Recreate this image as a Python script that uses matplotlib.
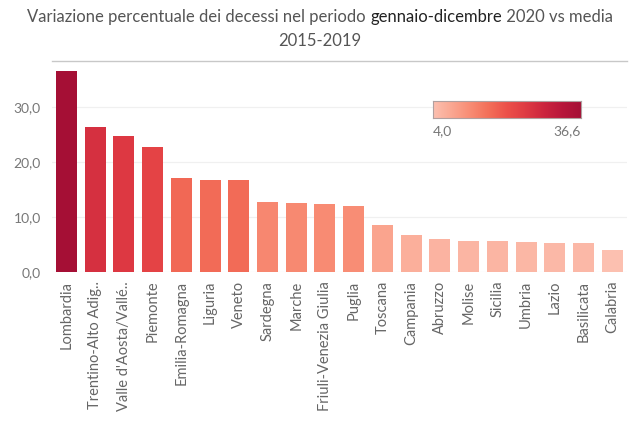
import numpy as np
import matplotlib
matplotlib.use("Agg")
import matplotlib.pyplot as plt
from matplotlib.colors import LinearSegmentedColormap, Normalize
from matplotlib.ticker import FuncFormatter

# Variazione % decessi 2020 vs media 2015-2019, per regione
regioni = ["Lombardia", "Trentino-Alto Adig..", "Valle d'Aosta/Vallé..", "Piemonte",
           "Emilia-Romagna", "Liguria", "Veneto", "Sardegna", "Marche",
           "Friuli-Venezia Giulia", "Puglia", "Toscana", "Campania", "Abruzzo",
           "Molise", "Sicilia", "Umbria", "Lazio", "Basilicata", "Calabria"]
variazione = [36.6, 26.5, 24.8, 22.8, 17.2, 16.8, 16.8, 12.8, 12.6,
              12.4, 12.1, 8.7, 6.9, 6.1, 5.8, 5.8, 5.6, 5.4, 5.4, 4.0]

plt.rcParams['font.family'] = ['Lato', 'DejaVu Sans']

# tableau-like sequential red
red_steps = ["#fcc0b0", "#faa792", "#f88c74", "#f36f59", "#ec5049",
             "#df3b43", "#cc253e", "#b8163a", "#a50f35"]
cmap = LinearSegmentedColormap.from_list("tab_red", red_steps)
norm = Normalize(vmin=min(variazione), vmax=max(variazione))

fig = plt.figure(figsize=(6.4, 4.23), dpi=100)
ax = fig.add_axes([0.0813, 0.3558, 0.8977, 0.5])

x = np.arange(len(regioni))
ax.bar(x, variazione, width=0.73, color=cmap(norm(np.array(variazione))), zorder=3)

ax.set_xlim(-0.5, len(regioni) - 0.5)
ax.set_ylim(0, 38.45)
ax.set_yticks([0, 10, 20, 30])
ax.yaxis.set_major_formatter(FuncFormatter(lambda v, p: f"{v:.1f}".replace(".", ",")))
ax.set_xticks(x)
ax.set_xticklabels(regioni, rotation=90, fontsize=10.5, color="#666666")
ax.tick_params(axis="y", labelsize=10, labelcolor="#777777", length=0, pad=8)
ax.tick_params(axis="x", length=0, pad=6)

ax.grid(axis="y", color="#f0f0f0", linewidth=0.9, zorder=0)
for s in ["left", "right", "bottom"]:
    ax.spines[s].set_visible(False)
ax.spines["top"].set_color("#c8c8c8")
ax.spines["top"].set_linewidth(1.0)

# legend colour bar
cax = fig.add_axes([433 / 640, 1 - 118 / 423, 148 / 640, 17 / 423])
cax.imshow(np.linspace(0, 1, 256)[None, :], aspect="auto", cmap=cmap,
           extent=[0, 1, 0, 1])
cax.set_xticks([])
cax.set_yticks([])
for s in cax.spines.values():
    s.set_color("#b0a0a0")
    s.set_linewidth(0.8)
fig.text(433 / 640, 1 - 131 / 423, "4,0", fontsize=10, color="#777777",
         ha="left", va="center")
fig.text(581 / 640, 1 - 131 / 423, "36,6", fontsize=10, color="#777777",
         ha="right", va="center")

# title with the period highlighted
parts = [("Variazione percentuale dei decessi nel periodo ", "#555555"),
         ("gennaio-dicembre", "#222222"),
         (" 2020 vs media", "#555555")]
fig.canvas.draw()
renderer = fig.canvas.get_renderer()
texts = []
for s, c in parts:
    t = fig.text(0, 1 - 17 / 423, s, fontsize=12, color=c, ha="left", va="center")
    texts.append(t)
widths = [t.get_window_extent(renderer).width for t in texts]
start = (640 - sum(widths)) / 2
for t, w in zip(texts, widths):
    t.set_x(start / 640)
    start += w
fig.text(0.5, 1 - 41 / 423, "2015-2019", fontsize=12, color="#555555",
         ha="center", va="center")

fig.savefig("out.png", dpi=100)
